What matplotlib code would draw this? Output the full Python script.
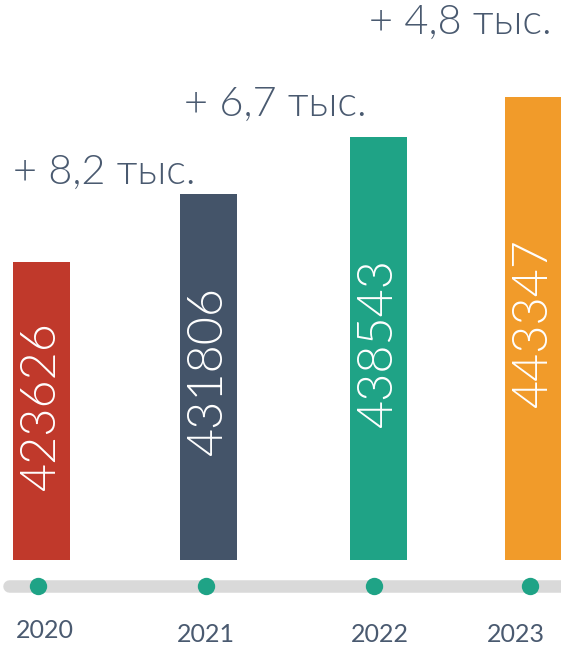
import matplotlib
matplotlib.use("Agg")
import matplotlib.pyplot as plt

years = ["2020", "2021", "2022", "2023"]
values = [423626, 431806, 438543, 443347]
growth_labels = ["+ 8,2 тыс.", "+ 6,7 тыс.", "+ 4,8 тыс."]
colors = ["#c0392b", "#445469", "#1fa386", "#f19b2a"]

# layout (pixel units)
W, H = 561, 646
bar_x = [42, 208.5, 378.5, 533.5]
bar_w = 57
dot_x = [38, 206, 374, 530]
year_x = [45, 206, 380, 516]
year_y = [15, 11, 11, 11]
growth_pos = [(104.5, 646 - 172), (275.5, 646 - 104), (460.5, 646 - 22)]
base_px = 86           # baseline height from bottom
scale = 0.00840        # px per unit
base_val = 388200

text_color = "#4a5a70"

fig = plt.figure(figsize=(W / 100, H / 100), dpi=100)

ax = fig.add_axes([0, base_px / H, 1, 1 - base_px / H])
ax.set_xlim(0, W)
ax.set_ylim(base_val, base_val + (H - base_px) / scale)
ax.axis("off")

bars = ax.bar(bar_x, [v - base_val for v in values], width=bar_w, bottom=base_val,
              color=colors)
for b, v in zip(bars, values):
    ax.text(b.get_x() + b.get_width() / 2, b.get_y() + b.get_height() / 2 + 5 / scale,
            str(v), rotation=90, ha="center", va="center", color="white",
            fontsize=35, family="Lato", fontweight=300)

for (gx, gy), lab in zip(growth_pos, growth_labels):
    fig.text(gx / W, gy / H, lab, ha="center", va="center", color=text_color,
             fontsize=30, family="Lato", fontweight=300)

ax2 = fig.add_axes([0, 0, 1, base_px / H])
ax2.set_xlim(0, W)
ax2.set_ylim(0, base_px)
ax2.axis("off")
ax2.plot([9, W + 10], [60, 60], color="#d9d9d9", lw=9, solid_capstyle="round")
ax2.plot(dot_x, [60] * len(dot_x), "o", color="#1fa386", markersize=12.5, mec="none")
for x, y, yr in zip(year_x, year_y, years):
    ax2.text(x, y, yr, ha="center", va="center", color=text_color, fontsize=18,
             family="Lato")

fig.savefig("out.png", dpi=100)
